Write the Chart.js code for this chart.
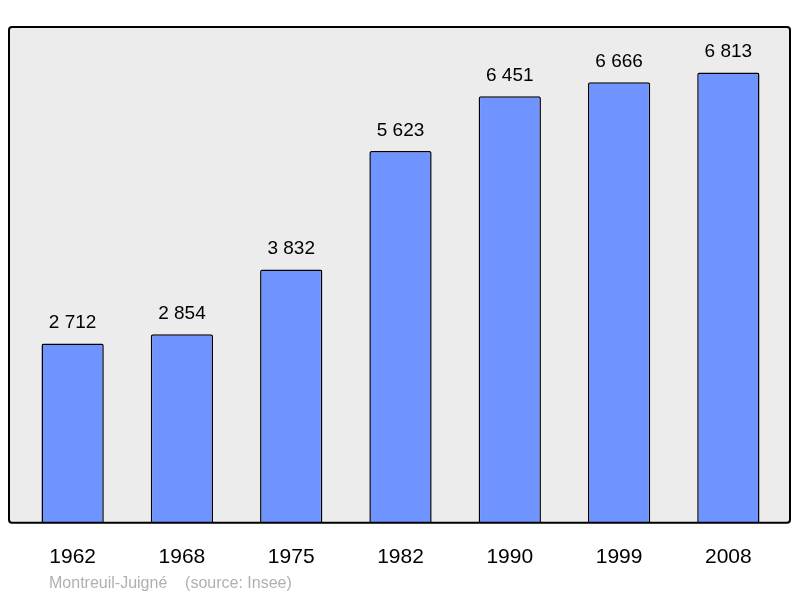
<!DOCTYPE html>
<html>
<head>
<meta charset="utf-8">
<script src="https://cdn.jsdelivr.net/npm/chart.js@4"></script>
<style>
  html, body { margin: 0; padding: 0; background: #fff; }
  #wrap { width: 800px; height: 598px; }
</style>
</head>
<body>
<div id="wrap"><canvas id="pop"></canvas></div>
<script>
const years = ['1962', '1968', '1975', '1982', '1990', '1999', '2008'];
const population = [2712, 2854, 3832, 5623, 6451, 6666, 6813];
const sourceText = 'Montreuil-Juigné    (source: Insee)';

// french style thousands: "2 712"
const fmt = v => String(v).replace(/\B(?=(\d{3})+(?!\d))/g, ' ');

// frame is a bit wider than the category band
const FRAME_L = 9, FRAME_R = 790;

const frame = {
    id: 'frame',
    beforeDraw(chart) {
        const { ctx, chartArea: a } = chart;
        ctx.save();
        ctx.fillStyle = '#ececec';
        ctx.fillRect(FRAME_L, a.top, FRAME_R - FRAME_L, a.bottom - a.top);
        ctx.restore();
    },
    afterDraw(chart) {
        const { ctx, chartArea: a } = chart;
        ctx.save();
        ctx.strokeStyle = '#000';
        ctx.lineWidth = 2;
        ctx.beginPath();
        ctx.roundRect(FRAME_L, a.top, FRAME_R - FRAME_L, a.bottom - a.top, 3);
        ctx.stroke();

        ctx.fillStyle = '#000';
        ctx.font = '19px "Liberation Sans", Arial, sans-serif';
        ctx.textAlign = 'center';
        ctx.textBaseline = 'bottom';
        chart.getDatasetMeta(0).data.forEach((bar, i) => {
            ctx.fillText(fmt(population[i]), bar.x, bar.y - 11);
        });

        ctx.fillStyle = '#b0b0b0';
        ctx.font = '16px "Liberation Sans", Arial, sans-serif';
        ctx.textAlign = 'left';
        ctx.textBaseline = 'middle';
        ctx.fillText(sourceText, 49, 584);
        ctx.restore();
    }
};

new Chart(document.getElementById('pop'), {
    type: 'bar',
    data: {
        labels: years,
        datasets: [{
            data: population,
            backgroundColor: '#7094ff',
            borderColor: '#000',
            borderWidth: 1.5,
            borderSkipped: 'bottom',
            borderRadius: 2,
            categoryPercentage: 0.57,
            barPercentage: 1
        }]
    },
    options: {
        responsive: true,
        maintainAspectRatio: false,
        animation: false,
        layout: { padding: { left: 18, right: 17, top: 27, bottom: 14 } },
        plugins: { legend: { display: false }, tooltip: { enabled: false } },
        scales: {
            x: {
                grid: { display: false },
                border: { display: false },
                ticks: { color: '#000', font: { size: 21, family: '"Liberation Sans", Arial, sans-serif' }, padding: 14 }
            },
            y: {
                display: false,
                min: 0,
                max: 7500
            }
        }
    },
    plugins: [frame]
});
</script>
</body>
</html>
